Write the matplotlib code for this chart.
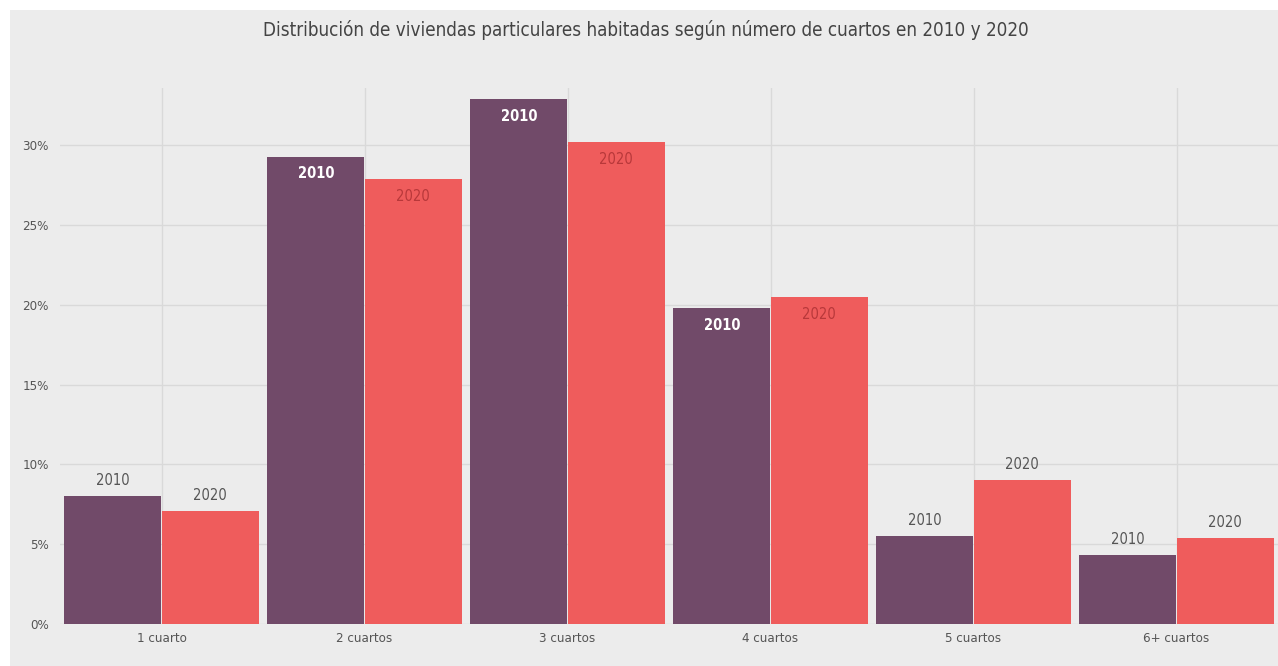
import matplotlib
matplotlib.use("Agg")
import matplotlib.pyplot as plt
from matplotlib.patches import Rectangle
import numpy as np

plt.rcParams['font.family'] = ['DejaVu Sans']
plt.rcParams['font.stretch'] = 'condensed'

categorias = ["1 cuarto", "2 cuartos", "3 cuartos", "4 cuartos", "5 cuartos", "6+ cuartos"]
v2010 = [8.0, 29.3, 32.9, 19.8, 5.5, 4.3]
v2020 = [7.1, 27.9, 30.2, 20.5, 9.0, 5.4]
# etiqueta dentro de la barra (True) o encima (False)
dentro2010 = [False, True, True, True, False, False]
dentro2020 = [False, True, True, True, False, False]
yticks = [0, 5, 10, 15, 20, 25, 30]

morado = "#714a69"
rojo = "#ef5c5c"
fondo = "#ececec"

fig = plt.figure(figsize=(12.78, 6.66), dpi=100, facecolor="white")
fig.patches.append(Rectangle((10 / 1278, 0), 1, 1 - 10 / 666, transform=fig.transFigure,
                             facecolor=fondo, edgecolor="none", zorder=-10))
ax = fig.add_axes([60 / 1278, 1 - 624 / 666, 1 - 60 / 1278, (624 - 88) / 666])
ax.set_facecolor(fondo)

x = np.arange(len(categorias))
w = 0.478
b1 = ax.bar(x - w / 2 - 0.003, v2010, w, color=morado, zorder=3)
b2 = ax.bar(x + w / 2 + 0.003, v2020, w, color=rojo, zorder=3)

for i in range(len(x)):
    if dentro2010[i]:
        ax.text(x[i] - w / 2, v2010[i] - 0.6, "2010", ha="center", va="top",
                color="white", fontsize=10.5, fontweight="bold", zorder=4)
    else:
        ax.text(x[i] - w / 2, v2010[i] + 0.5, "2010", ha="center", va="bottom",
                color="#555555", fontsize=10.5, zorder=4)
    if dentro2020[i]:
        ax.text(x[i] + w / 2, v2020[i] - 0.6, "2020", ha="center", va="top",
                color="#b8383a", fontsize=10.5, zorder=4)
    else:
        ax.text(x[i] + w / 2, v2020[i] + 0.5, "2020", ha="center", va="bottom",
                color="#555555", fontsize=10.5, zorder=4)

ax.set_xlim(-0.5, len(x) - 0.5)
ax.set_ylim(0, 33.6)
ax.set_xticks(x)
ax.set_xticklabels(categorias)
ax.set_yticks(yticks)
ax.set_yticklabels([f"{t}%" for t in yticks])
ax.tick_params(axis="both", length=0, labelsize=9.5, colors="#555555")
ax.tick_params(axis="x", pad=6)
ax.tick_params(axis="y", pad=8)
ax.grid(True, color="#d9d9d9", linewidth=1, zorder=0)
for s in ax.spines.values():
    s.set_visible(False)

fig.text(646 / 1278, 1 - 30 / 666, "Distribución de viviendas particulares habitadas según número de cuartos en 2010 y 2020",
         ha="center", va="center", fontsize=13.5, color="#444444")

fig.savefig("out.png", dpi=100, facecolor=fig.get_facecolor())
